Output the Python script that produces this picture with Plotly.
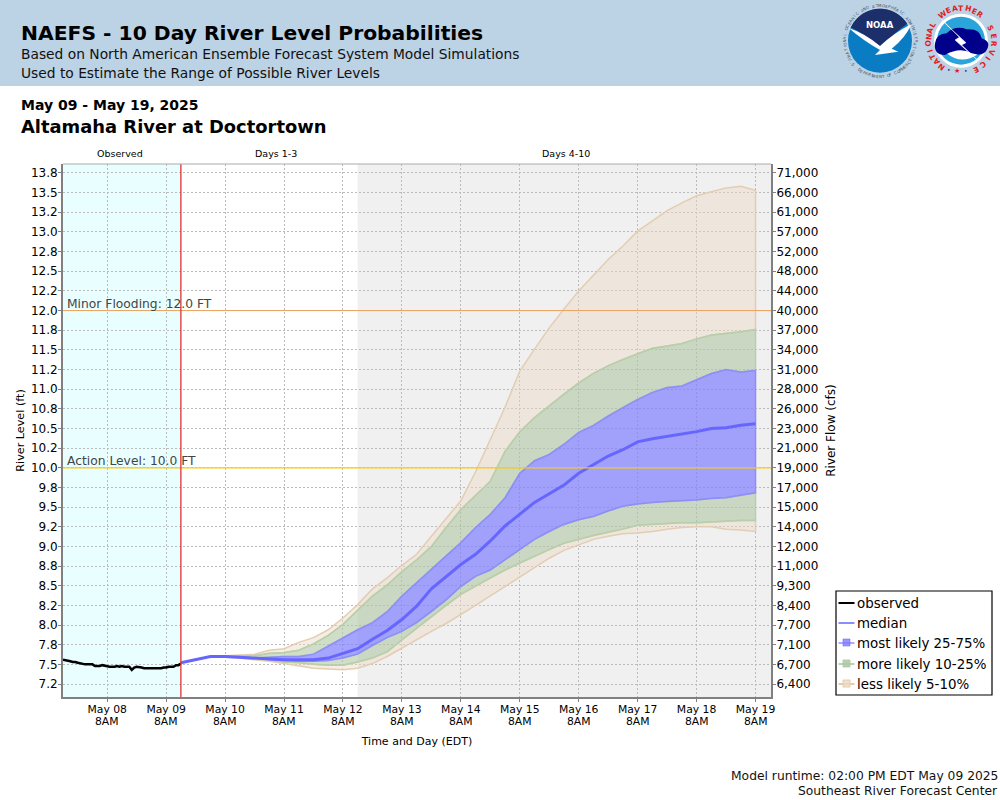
import math
import numpy as np
import pandas as pd
import plotly.graph_objects as go

# ---------- data ----------
LEVEL_TICKS = [13.75, 13.5, 13.25, 13.0, 12.75, 12.5, 12.25, 12.0, 11.75, 11.5, 11.25, 11.0, 10.75, 10.5,
               10.25, 10.0, 9.75, 9.5, 9.25, 9.0, 8.75, 8.5, 8.25, 8.0, 7.75, 7.5, 7.25]
LEVEL_LABELS = ["13.8", "13.5", "13.2", "13.0", "12.8", "12.5", "12.2", "12.0", "11.8", "11.5", "11.2", "11.0", "10.8", "10.5",
                "10.2", "10.0", "9.8", "9.5", "9.2", "9.0", "8.8", "8.5", "8.2", "8.0", "7.8", "7.5", "7.2"]
FLOW_LABELS = ["71,000", "66,000", "61,000", "57,000", "52,000", "48,000", "44,000", "40,000", "37,000", "34,000",
               "31,000", "28,000", "26,000", "23,000", "21,000", "19,000", "17,000", "15,000", "14,000", "12,000",
               "11,000", "9,300", "8,400", "7,700", "7,100", "6,700", "6,400"]
DATE_TICKS = ["2025-05-%02d 08:00" % d for d in range(8, 20)]
DATE_LABELS = ["May %02d" % d for d in range(8, 20)]
TIME_LABEL = "8AM"

OBSERVED = [7.56, 7.55, 7.55, 7.54, 7.53, 7.53, 7.52, 7.51, 7.51, 7.50, 7.50, 7.50, 7.50, 7.48, 7.48, 7.48, 7.49,
            7.48, 7.48, 7.47, 7.47, 7.47, 7.48, 7.47, 7.48, 7.47, 7.47, 7.47, 7.43, 7.46, 7.47, 7.46, 7.46, 7.45,
            7.45, 7.45, 7.45, 7.45, 7.45, 7.45, 7.45, 7.46, 7.46, 7.47, 7.47, 7.47, 7.49, 7.49, 7.51]
Q95 = [7.52, 7.56, 7.60, 7.61, 7.62, 7.63, 7.68, 7.70, 7.78, 7.84, 7.94, 8.09, 8.26, 8.46, 8.60, 8.76, 8.90, 9.13,
       9.36, 9.58, 9.95, 10.36, 10.77, 11.23, 11.51, 11.78, 12.02, 12.25, 12.45, 12.65, 12.82, 13.01, 13.14, 13.27,
       13.37, 13.46, 13.51, 13.56, 13.58, 13.53]
Q90 = [7.52, 7.56, 7.60, 7.60, 7.61, 7.61, 7.64, 7.65, 7.68, 7.76, 7.87, 8.01, 8.19, 8.37, 8.51, 8.68, 8.83, 9.00,
       9.24, 9.47, 9.65, 9.83, 10.21, 10.46, 10.64, 10.79, 10.94, 11.08, 11.20, 11.30, 11.38, 11.45, 11.52, 11.55,
       11.58, 11.64, 11.69, 11.71, 11.73, 11.76]
Q75 = [7.52, 7.56, 7.60, 7.60, 7.60, 7.58, 7.59, 7.60, 7.60, 7.63, 7.73, 7.84, 7.94, 8.03, 8.17, 8.37, 8.54, 8.71,
       8.88, 9.05, 9.24, 9.41, 9.62, 9.93, 10.09, 10.17, 10.30, 10.45, 10.54, 10.66, 10.77, 10.87, 10.96, 11.02,
       11.04, 11.12, 11.20, 11.25, 11.22, 11.24]
Q50 = [7.52, 7.56, 7.60, 7.60, 7.59, 7.58, 7.57, 7.56, 7.56, 7.56, 7.58, 7.64, 7.70, 7.82, 7.93, 8.07, 8.24, 8.46,
       8.61, 8.77, 8.90, 9.07, 9.26, 9.41, 9.56, 9.67, 9.78, 9.93, 10.04, 10.15, 10.23, 10.33, 10.37, 10.40,
       10.43, 10.46, 10.50, 10.51, 10.54, 10.56]
Q25 = [7.52, 7.56, 7.60, 7.60, 7.59, 7.58, 7.56, 7.55, 7.54, 7.54, 7.55, 7.58, 7.63, 7.74, 7.84, 7.92, 8.03, 8.17,
       8.32, 8.49, 8.62, 8.70, 8.83, 8.96, 9.09, 9.19, 9.28, 9.34, 9.38, 9.45, 9.51, 9.54, 9.56, 9.57,
       9.58, 9.59, 9.61, 9.62, 9.65, 9.68]
Q10 = [7.52, 7.56, 7.60, 7.59, 7.59, 7.57, 7.56, 7.53, 7.52, 7.50, 7.49, 7.49, 7.53, 7.58, 7.66, 7.81, 7.96, 8.11,
       8.25, 8.39, 8.50, 8.60, 8.70, 8.79, 8.88, 8.96, 9.04, 9.09, 9.14, 9.18, 9.22, 9.27, 9.28, 9.29,
       9.30, 9.30, 9.31, 9.32, 9.33, 9.33]
Q05 = [7.52, 7.56, 7.60, 7.59, 7.58, 7.56, 7.54, 7.51, 7.48, 7.45, 7.44, 7.43, 7.45, 7.51, 7.60, 7.71, 7.82, 7.92,
       8.02, 8.13, 8.25, 8.37, 8.49, 8.62, 8.73, 8.85, 8.95, 9.02, 9.09, 9.13, 9.16, 9.17, 9.19, 9.22,
       9.24, 9.25, 9.25, 9.22, 9.21, 9.19]

ACTION_LEVEL = 10.0
MINOR_LEVEL = 12.0
RUN_TIME = "2025-05-09 14:00"
DAY3_END = "2025-05-12 14:00"
X_RANGE = ["2025-05-07 14:00", "2025-05-19 14:18"]
Y_RANGE = [7.085, 13.864]

obs_x = pd.date_range("2025-05-07 14:00", periods=len(OBSERVED), freq="h")
fc_x = pd.date_range(RUN_TIME, periods=len(Q50), freq="6h")

# ---------- layout constants ----------
W, H = 1000, 800
L, R, T, B = 63, 771, 164, 697
FONT = "DejaVu Sans"
TAN_FILL, TAN_EDGE = "rgba(236,218,196,0.45)", "rgba(226,203,176,0.95)"
GREEN_FILL, GREEN_EDGE = "rgba(175,198,165,0.6)", "rgba(180,208,170,0.95)"
BLUE_FILL, BLUE_EDGE = "rgba(127,125,255,0.7)", "rgba(140,140,250,0.95)"
MEDIAN = "#6666ff"


def px(x):
    return (x - L) / (R - L)


def py(y):
    return 1 - (y - T) / (B - T)


def text(x, y, s, size, color="#000", anchor="left", bold=False, angle=0, valign="middle", family=FONT):
    return dict(x=px(x), y=py(y), xref="paper", yref="paper", text=("<b>%s</b>" % s) if bold else s, showarrow=False,
                xanchor=anchor, yanchor=valign, textangle=angle, font=dict(family=family, size=size, color=color),
                borderpad=0, borderwidth=0)


def rect(x0, y0, x1, y1, fill=None, line=None, width=0, layer="above", kind="rect"):
    return dict(type=kind, xref="paper", yref="paper", x0=px(x0), x1=px(x1), y0=py(y0), y1=py(y1),
                fillcolor=fill, line=dict(color=line, width=width), layer=layer)


def path(points, fill, close=True, line=None, width=0):
    """points: tuples in page pixels; 2 values = line to, 4 values = quadratic to."""
    out = []
    for i, p in enumerate(points):
        if i == 0:
            out.append("M%.5f,%.5f" % (px(p[0]), py(p[1])))
        elif len(p) == 2:
            out.append("L%.5f,%.5f" % (px(p[0]), py(p[1])))
        else:
            out.append("Q%.5f,%.5f %.5f,%.5f" % (px(p[0]), py(p[1]), px(p[2]), py(p[3])))
    return dict(type="path", xref="paper", yref="paper", path=" ".join(out) + (" Z" if close else ""),
                fillcolor=fill, line=dict(color=line, width=width), layer="above")


def Z(*vals):
    """logo crop coordinates to page pixels"""
    res = []
    for i, v in enumerate(vals):
        res.append(830 + v / 3 if i % 2 == 0 else v / 3)
    return tuple(res)


def ring(cx, cy, r, s, a0, a1, size, color, bottom=False, bold=False):
    out = []
    n = len(s)
    for i, ch in enumerate(s):
        if ch == " ":
            continue
        a = a0 + (a1 - a0) * i / (n - 1)
        x = cx + r * math.sin(math.radians(a))
        y = cy - r * math.cos(math.radians(a))
        rot = a - 180 if bottom else a
        out.append(text(x, y, ch, size, color, "center", bold=bold, angle=rot))
    return out


# ---------- traces ----------
fig = go.Figure()


def band(lo, hi, fill, edge):
    fig.add_trace(go.Scatter(x=list(fc_x) + list(fc_x[::-1]), y=list(lo) + list(hi[::-1]), mode="lines",
                             fill="toself", fillcolor=fill, line=dict(color=edge, width=1.5), showlegend=False,
                             hoverinfo="skip"))


band(Q05, Q10, TAN_FILL, TAN_EDGE)
band(Q90, Q95, TAN_FILL, TAN_EDGE)
band(Q10, Q25, GREEN_FILL, GREEN_EDGE)
band(Q75, Q90, GREEN_FILL, GREEN_EDGE)
band(Q25, Q75, BLUE_FILL, BLUE_EDGE)
fig.add_trace(go.Scatter(x=obs_x, y=OBSERVED, mode="lines", name="observed", line=dict(color="#000", width=2.5),
                         showlegend=False))
fig.add_trace(go.Scatter(x=fc_x, y=Q50, mode="lines", name="median", line=dict(color=MEDIAN, width=3),
                         showlegend=False))
# carries the right-hand flow axis
fig.add_trace(go.Scatter(x=fc_x, y=Q50, yaxis="y2", mode="lines", line=dict(width=0), opacity=0, showlegend=False,
                         hoverinfo="skip"))

# ---------- shapes ----------
shapes = [
    dict(type="rect", xref="x", yref="paper", x0=X_RANGE[0], x1=RUN_TIME, y0=0, y1=1, fillcolor="#e9ffff",
         line=dict(width=0), layer="below"),
    dict(type="rect", xref="x", yref="paper", x0=DAY3_END, x1=X_RANGE[1], y0=0, y1=1, fillcolor="#f0f0f0",
         line=dict(width=0), layer="below"),
    dict(type="line", xref="paper", yref="y", x0=0, x1=1, y0=MINOR_LEVEL, y1=MINOR_LEVEL,
         line=dict(color="#eba45f", width=1), layer="above"),
    dict(type="line", xref="paper", yref="y", x0=0, x1=1, y0=ACTION_LEVEL, y1=ACTION_LEVEL,
         line=dict(color="#fbcb10", width=1.2), layer="above"),
    dict(type="line", xref="x", yref="paper", x0=RUN_TIME, x1=RUN_TIME, y0=0, y1=1,
         line=dict(color="#e03030", width=1.3), layer="above"),
    dict(type="line", xref="paper", yref="paper", x0=0, x1=1, y0=1, y1=1, line=dict(color="#aaaaaa", width=1),
         layer="above"),
    rect(0, 0, 1000, 86, fill="#bcd2e5", layer="above"),
]

# NOAA logo
cx, cy, r = 880, 40.7, 32
shapes.append(rect(cx - r, cy - r, cx + r, cy + r, fill="#0a7cc4", kind="circle"))
arc = [(cx + r * math.sin(math.radians(a)), cy - r * math.cos(math.radians(a))) for a in np.arange(-62, 64, 6)]
shapes.append(path(arc + [Z(190, 100, 155, 142), Z(145, 142), Z(110, 105, 62, 82)], "#1c2f6b"))
shapes.append(path([Z(56, 84), Z(105, 100, 150, 138), Z(190, 100, 244, 72), Z(228, 112, 185, 146), Z(205, 155),
                    Z(135, 165), Z(150, 150), Z(100, 122, 56, 84)], "#ffffff"))
# NWS logo
shapes.append(rect(Z(393, 0)[0] - 27, 40.7 - 27, Z(393, 0)[0] + 27, 40.7 + 27, fill="#ffffff", kind="circle"))
shapes.append(rect(Z(393, 0)[0] - 24, 40.7 - 24, Z(393, 0)[0] + 24, 40.7 + 24, fill="#2aa5dc", kind="circle"))
shapes.append(path([Z(350, 160), Z(393, 195, 440, 165), Z(440, 150), Z(350, 145)], "#ffffff"))
shapes.append(path([Z(315, 130), Z(320, 100, 350, 100), Z(375, 75, 410, 88), Z(450, 85, 455, 115), Z(485, 125, 470, 150),
                    Z(460, 170, 425, 160), Z(390, 140, 345, 165), Z(310, 165, 315, 130)], "#00008b"))
shapes.append(path([Z(335, 58), Z(388, 112), Z(375, 120), Z(442, 180), Z(395, 135), Z(408, 128), Z(350, 75)], "#ffffff",
                   line="#ffffff", width=0.5))

# legend drawn at the reference's position and size
LEG_X0, LEG_Y0, LEG_X1, LEG_Y1 = 836, 591, 992, 695
shapes.append(rect(LEG_X0, LEG_Y0, LEG_X1, LEG_Y1, fill="#ffffff", line="#000", width=1.2))
LEG_ITEMS = [("observed", "#000000", None), ("median", "rgba(102,102,255,0.75)", None),
             ("most likely 25-75%", "rgba(102,102,255,0.55)", "rgba(127,125,255,0.8)"),
             ("more likely 10-25%", "rgba(170,200,160,0.8)", "rgba(175,198,165,0.85)"),
             ("less likely 5-10%", "rgba(226,200,170,0.9)", "rgba(236,218,196,0.8)")]
LEG_ROWS = [603, 623, 643, 664, 684]

# ---------- annotations ----------
ann = [
    text(21, 33, "NAEFS - 10 Day River Level Probabilities", 20.3, bold=True),
    text(21, 54, "Based on North American Ensemble Forecast System Model Simulations", 13.8, "#111"),
    text(21, 73, "Used to Estimate the Range of Possible River Levels", 13.8, "#111"),
    text(21, 105, "May 09 - May 19, 2025", 14, bold=True),
    text(21, 126, "Altamaha River at Doctortown", 17.9, bold=True),
    text(120, 154, "Observed", 9.5, anchor="center"),
    text(276, 154, "Days 1-3", 9.5, anchor="center"),
    text(566, 154, "Days 4-10", 9.5, anchor="center"),
    text(67, 304, "Minor Flooding: 12.0 FT", 12.3, "#444"),
    text(67, 461, "Action Level: 10.0 FT", 12.3, "#444"),
    text(998, 776, "Model runtime: 02:00 PM EDT May 09 2025", 12.3, "#111", anchor="right"),
    text(998, 791, "Southeast River Forecast Center", 12.3, "#111", anchor="right"),
]
for d in DATE_TICKS:
    ann.append(dict(x=d, xref="x", y=py(721), yref="paper", text=TIME_LABEL, showarrow=False, xanchor="center",
                    yanchor="middle", font=dict(family=FONT, size=10.8, color="#000"), borderpad=0))
for (label, edge, fill), yy in zip(LEG_ITEMS, LEG_ROWS):
    shapes.append(dict(type="line", xref="paper", yref="paper", x0=px(838.5), x1=px(854.5), y0=py(yy), y1=py(yy),
                       line=dict(color=edge, width=2), layer="above"))
    if fill:
        shapes.append(rect(843, yy - 4, 850, yy + 3, fill=fill, line=edge, width=1))
    ann.append(text(857, yy, label, 13.4, "#000"))

# logo lettering
ann.append(text(880, 25, "NOAA", 8.5, "#ffffff", "center", bold=True))
ann += ring(880, 41, 35.5, "NATIONAL OCEANIC AND ATMOSPHERIC ADMINISTRATION", -115, 115, 4, "#445566")
ann += ring(880, 41, 35.5, "U.S. DEPARTMENT OF COMMERCE", 238, 122, 4, "#445566", bottom=True)
nx, ny, nr = Z(393, 0)[0], 40.7, 32.5
ann += ring(nx, ny, nr, "NATIONAL", -143, -60, 7.5, "#e02020", bold=True)
ann += ring(nx, ny, nr, "WEATHER", -35, 36, 7.5, "#e02020", bold=True)
ann += ring(nx, ny, nr, "SERVICE", 67, 153, 7.5, "#e02020", bold=True)
ann.append(text(Z(382, 0)[0], 71.5, "★", 7, "#e02020", "center"))
ann.append(text(Z(358, 0)[0], 69, "•", 6, "#1c2f6b", "center"))
ann.append(text(Z(408, 0)[0], 71, "•", 6, "#1c2f6b", "center"))

# ---------- layout ----------
AX = dict(showline=True, linecolor="#808080", linewidth=2, ticks="outside", ticklen=3, tickcolor="#808080",
          tickwidth=1, zeroline=False, automargin=False)
GRID = dict(showgrid=True, gridcolor="#bbbbbb", griddash="2px,2px", gridwidth=1)
fig.update_layout(
    width=W, height=H, autosize=False,
    margin=dict(l=L, r=W - R, t=T, b=H - B, pad=0),
    paper_bgcolor="#ffffff", plot_bgcolor="#ffffff",
    font=dict(family=FONT, color="#000"),
    showlegend=False,
    xaxis=dict(type="date", range=X_RANGE, tickmode="array", tickvals=DATE_TICKS, ticktext=DATE_LABELS,
               tickfont=dict(size=10.8), ticklabelstandoff=-2,
               title=dict(text="Time and Day (EDT)", font=dict(size=11), standoff=22), **GRID, **AX),
    yaxis=dict(range=Y_RANGE, tickmode="array", tickvals=LEVEL_TICKS, ticktext=LEVEL_LABELS, tickfont=dict(size=12),
               ticklabelstandoff=-2, title=dict(text="River Level (ft)", font=dict(size=11.2), standoff=4), **GRID, **AX),
    yaxis2=dict(range=Y_RANGE, overlaying="y", side="right", tickmode="array", tickvals=LEVEL_TICKS,
                ticktext=FLOW_LABELS, tickfont=dict(size=12), showgrid=False, ticklabelstandoff=-2,
                title=dict(text="River Flow (cfs)", font=dict(size=12), standoff=9), **AX),
    shapes=shapes, annotations=ann,
)

fig.write_html("out.html", config=dict(displayModeBar=False),
               post_script="document.body.style.margin='0';document.body.style.overflow='hidden';")
